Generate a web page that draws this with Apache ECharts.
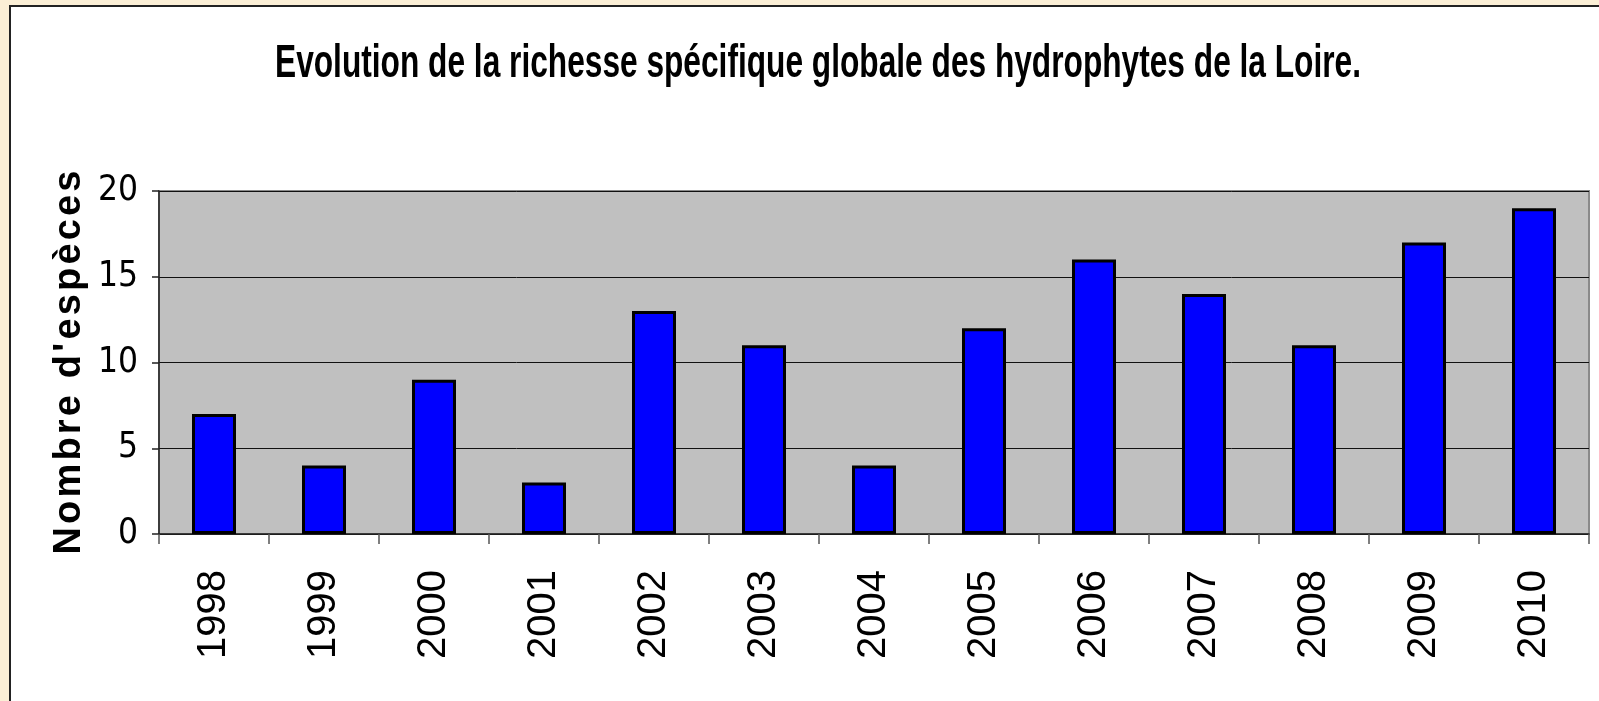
<!DOCTYPE html>
<html>
<head>
<meta charset="utf-8">
<title>Evolution de la richesse spécifique</title>
<script src="https://cdn.jsdelivr.net/npm/echarts@6/dist/echarts.min.js"></script>
<style>
  html, body {
    margin: 0;
    padding: 0;
    background: #fbefd6;
  }
  #chart {
    width: 1599px;
    height: 701px;
  }
</style>
</head>
<body>
<div id="chart"></div>
<script>
  // données
  var years = ['1998', '1999', '2000', '2001', '2002', '2003', '2004', '2005', '2006', '2007', '2008', '2009', '2010']
  var nbEspeces = [7, 4, 9, 3, 13, 11, 4, 12, 16, 14, 11, 17, 19]
  var yTicks = [0, 5, 10, 15, 20]

  var titre = 'Evolution de la richesse spécifique globale des hydrophytes de la Loire.'
  var nomAxeY = "Nombre d'espèces".split('').join('\u200a')

  // le titre d'origine est très étroit : on le comprime en largeur
  var titreFont = 'bold 47px "Liberation Sans", Arial, sans-serif'
  var ctx = document.createElement('canvas').getContext('2d')
  ctx.font = titreFont
  var titreScale = 1086 / ctx.measureText(titre).width

  var chart = echarts.init(document.getElementById('chart'))

  var option = {
    backgroundColor: 'transparent',
    animation: false,
    graphic: [
      {
        type: 'rect',
        z: -10,
        shape: { x: 10, y: 6, width: 1600, height: 700 },
        style: { fill: '#ffffff', stroke: '#222222', lineWidth: 2 }
      },
      {
        type: 'text',
        x: 818,
        y: 64,
        scaleX: titreScale,
        style: {
          text: titre,
          font: titreFont,
          fill: '#000000',
          align: 'center',
          verticalAlign: 'middle'
        }
      }
    ],
    grid: {
      left: 159,
      right: 10,
      top: 191,
      bottom: 167,
      show: true,
      backgroundColor: '#c0c0c0',
      borderColor: '#8a8a8a',
      borderWidth: 2
    },
    xAxis: {
      type: 'category',
      data: years,
      boundaryGap: true,
      axisLine: { show: true, lineStyle: { color: '#222', width: 1.5 } },
      axisTick: { show: true, interval: 0, length: 10, lineStyle: { color: '#555', width: 1.5 } },
      axisLabel: {
        interval: 0,
        rotate: 90,
        margin: 36,
        color: '#000',
        fontFamily: '"Liberation Sans", Arial, sans-serif',
        fontSize: 40
      },
      splitLine: { show: false }
    },
    yAxis: {
      type: 'value',
      min: yTicks[0],
      max: yTicks[yTicks.length - 1],
      interval: 5,
      name: nomAxeY,
      nameLocation: 'middle',
      nameRotate: 90,
      nameGap: 70,
      nameMoveOverlap: false,
      nameTextStyle: {
        color: '#000',
        fontWeight: 'bold',
        fontSize: 38,
        fontFamily: '"Liberation Sans", Arial, sans-serif'
      },
      axisLine: { show: true, lineStyle: { color: '#222', width: 1.5 } },
      axisTick: { show: true, length: 7, lineStyle: { color: '#222', width: 1.5 } },
      axisLabel: {
        margin: 21,
        color: '#000',
        fontFamily: '"Liberation Sans Narrow", "DejaVu Sans Condensed", "Liberation Sans", sans-serif',
        fontSize: 35
      },
      splitLine: { show: true, lineStyle: { color: '#111', width: 1 } }
    },
    series: [
      {
        name: "Nombre d'espèces",
        type: 'bar',
        data: nbEspeces,
        barWidth: '40%',
        itemStyle: {
          color: '#0000ff',
          borderColor: '#000',
          borderWidth: 3
        }
      }
    ]
  }

  chart.setOption(option)
</script>
</body>
</html>
